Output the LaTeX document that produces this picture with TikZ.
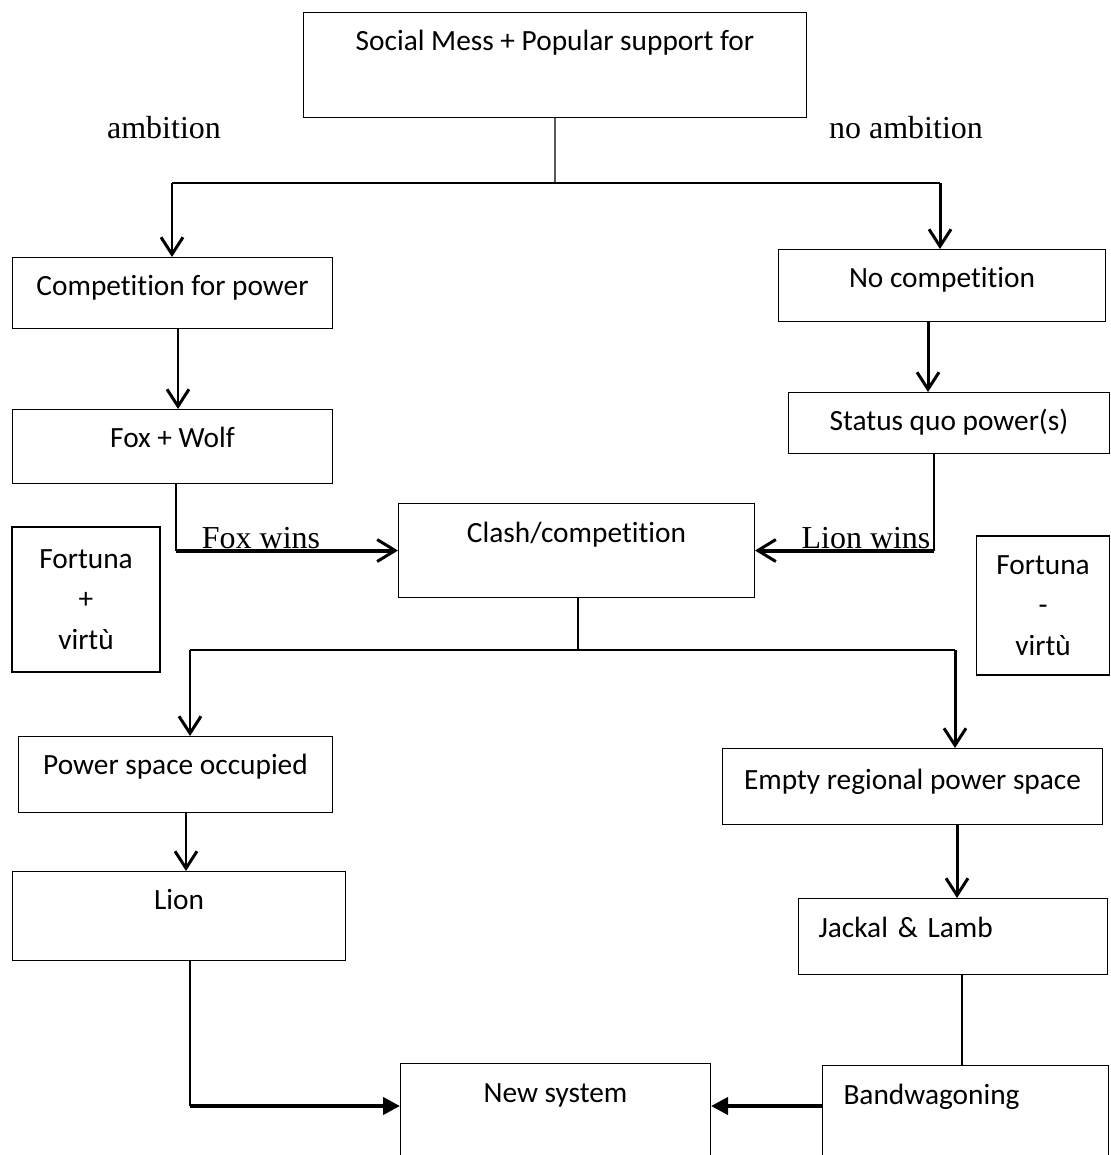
\documentclass[tikz,border=0pt]{standalone}
\usepackage{fontspec}
\setmainfont{Carlito}[Ligatures=NoCommon]
\newfontfamily\timesf{Liberation Serif}
\usetikzlibrary{arrows.meta,positioning,calc}

\tikzset{
  box/.style={draw,line width=0.6pt,inner xsep=0pt,inner ysep=0pt,anchor=north west,font=\fontsize{16.7}{20}\selectfont},
  lbl/.style={font=\timesf\fontsize{18.2}{22}\selectfont,inner sep=0pt},
  hair/.style={line width=0.6pt},
  downarr/.style={line width=1.7pt,-{Straight Barb[length=3.4mm,width=4.4mm,line width=1.7pt]}},
  fatarr/.style={line width=2.3pt,-{Straight Barb[length=3.6mm,width=4.4mm,line width=1.7pt]}},
  solidarr/.style={line width=2.3pt,-{Triangle[length=3.4mm,width=3.4mm]}}
}

\begin{document}
\begin{tikzpicture}[x=0.02cm,y=-0.02cm]
  \clip (0,0) rectangle (1111,1155);
  % boxes
  \node[box,minimum width=10.06cm,text height=0.76cm,text depth=1.34cm] (top) at (303,12) {Social Mess + Popular support for};
  \node[box,minimum width=6.4cm,text height=0.76cm,text depth=0.66cm] (comp) at (12,257) {Competition for power};
  \node[box,minimum width=6.54cm,text height=0.76cm,text depth=0.68cm] (nocomp) at (778,249) {No competition};
  \node[box,minimum width=6.4cm,text height=0.76cm,text depth=0.72cm] (fox) at (12,409) {Fox + Wolf};
  \node[box,minimum width=6.42cm,text height=0.76cm,text depth=0.46cm] (sq) at (788,392) {Status quo power(s)};
  \node[box,minimum width=7.12cm,text height=0.78cm,text depth=1.1cm] (clash) at (398,503) {Clash/competition};
  \node[box,anchor=center,minimum width=2.96cm,minimum height=2.9cm,align=center,font=\fontsize{16.7}{23}\selectfont] (fplus) at (86,599.5) {Fortuna\\+\\virtù};
  \node[box,anchor=center,minimum width=2.66cm,minimum height=2.78cm,align=center,font=\fontsize{16.7}{23}\selectfont] (fminus) at (1043,605.5) {Fortuna\\-\\virtù};
  \node[box,minimum width=6.28cm,text height=0.76cm,text depth=0.76cm] (pso) at (18,736) {Power space occupied};
  \node[box,minimum width=7.6cm,text height=0.82cm,text depth=0.7cm] (empty) at (722,748) {Empty regional power space};
  \node[box,minimum width=6.66cm,text height=0.76cm,text depth=1.02cm] (lion) at (12,871) {Lion};
  \node[box,text width=5.38cm,inner xsep=0.4cm,align=left,text height=0.78cm,text depth=0.74cm] (jackal) at (798,898) {Jackal \& Lamb};
  \node[box,minimum width=6.2cm,text height=0.78cm,text depth=1.98cm] (new) at (400,1063) {New system};
  \node[box,text width=4.88cm,inner xsep=0.42cm,align=left,text height=0.78cm,text depth=1.94cm] (band) at (822,1065) {Bandwagoning};
  % labels
  \node[lbl] (amb) at (164,128) {ambition};
  \node[lbl] (noamb) at (906,128) {no ambition};
  \node[lbl] (foxwins) at (261,538) {Fox wins};
  \node[lbl] (lionwins) at (866,538) {Lion wins};
  % first split
  \coordinate (s1) at (555,183);
  \coordinate (l1) at (172,183);
  \coordinate (r1) at (940,183);
  \draw[hair] (top.south) -- (s1);
  \draw[line width=1.4pt] (l1) -- (r1);
  \draw[downarr] (l1) -- (l1 |- comp.north);
  \draw[downarr] (r1) -- (r1 |- nocomp.north);
  \coordinate (c1) at (178,0);
  \coordinate (c2) at (928,0);
  \draw[downarr] (c1 |- comp.south) -- (c1 |- fox.north);
  \draw[downarr] (c2 |- nocomp.south) -- (c2 |- sq.north);
  % into the clash
  \coordinate (fx) at (176,0);
  \coordinate (sx) at (934,0);
  \draw[hair] (fx |- fox.south) -- (fx |- clash.west);
  \draw[fatarr] (fx |- clash.west) -- (clash.west);
  \draw[hair] (sx |- sq.south) -- (sx |- clash.east);
  \draw[fatarr] (sx |- clash.east) -- (clash.east);
  % second split
  \coordinate (s2) at (578,650);
  \coordinate (l2) at (190,650);
  \coordinate (r2) at (955,650);
  \draw[hair] (clash.south -| s2) -- (s2);
  \draw[line width=1.4pt] (l2) -- (r2);
  \draw[downarr] (l2) -- (l2 |- pso.north);
  \draw[downarr] (r2) -- (r2 |- empty.north);
  \coordinate (c3) at (186,0);
  \coordinate (c4) at (957,0);
  \draw[downarr] (c3 |- pso.south) -- (c3 |- lion.north);
  \draw[downarr] (c4 |- empty.south) -- (c4 |- jackal.north);
  % to the new system
  \coordinate (lx) at (190,1106);
  \coordinate (jx) at (962,1106);
  \draw[hair] (lion.south -| lx) -- (lx);
  \draw[solidarr] (lx) -- (lx -| new.west);
  \draw[hair] (jackal.south -| jx) -- (band.north -| jx);
  \draw[solidarr] (jx -| band.west) -- (jx -| new.east);
\end{tikzpicture}
\end{document}
